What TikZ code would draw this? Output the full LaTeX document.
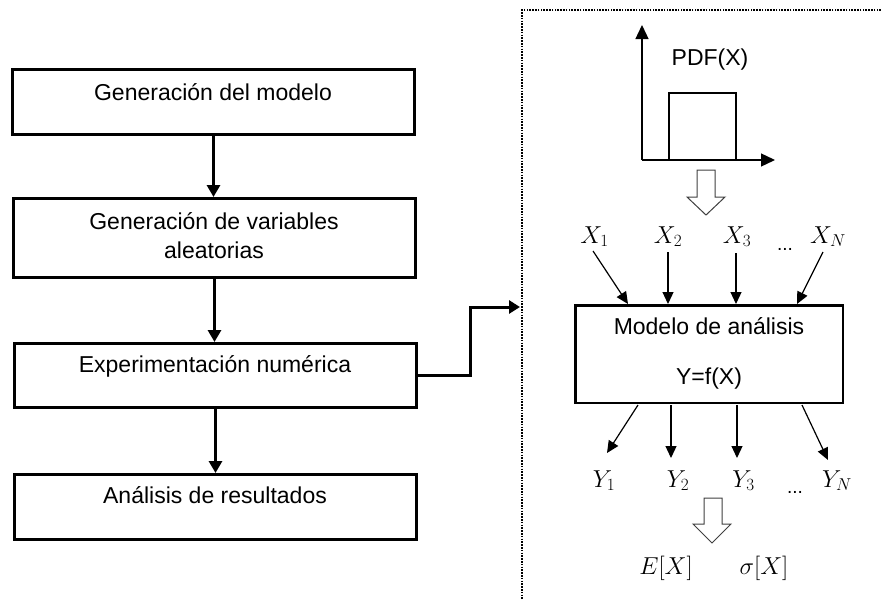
\RequirePackage{fix-cm}
\documentclass[tikz,border=0pt]{standalone}
\usepackage{fontspec}
\setmainfont{Liberation Sans}
\usetikzlibrary{arrows.meta,calc}
\begin{document}
\begin{tikzpicture}[x=1pt,y=-1pt,
  flowbox/.style={draw, line width=3pt, minimum width=402pt, inner sep=0pt},
  txt/.style={anchor=base, font=\fontsize{23}{27}\selectfont, inner sep=0pt},
  mth/.style={anchor=base, font=\fontsize{24.5}{28}\selectfont, inner sep=0pt},
  dts/.style={anchor=base, font=\fontsize{19}{22}\selectfont, inner sep=0pt},
  bigarrow/.style={line width=3pt, -{Triangle[width=13pt,length=12pt]}},
  smallarrow/.style={line width=1.2pt, -{Triangle[width=11pt,length=12pt]}},
  axisarrow/.style={line width=1.3pt, -{Triangle[width=13pt,length=14pt]}},
  hollow/.style={draw=black!75, line width=1pt, fill=white},
  dotline/.style={line width=2.4pt, dash pattern=on 1.6pt off 1.2pt}
]
\useasboundingbox (0,0) rectangle (881,600);

% left flow boxes
\node[flowbox, minimum height=65pt] (b1) at (213.5,102) {};
\node[flowbox, minimum height=79pt] (b2) at (214.5,238) {};
\node[flowbox, minimum height=64pt] (b3) at (215.5,375.5) {};
\node[flowbox, minimum height=65pt] (b4) at (215.5,507) {};

\node[txt] (t1) at (213,100) {Generación del modelo};
\node[txt] (t2a) at (214,229) {Generación de variables};
\node[txt] (t2b) at (214,258) {aleatorias};
\node[txt] (t3) at (215,372) {Experimentación numérica};
\node[txt] (t4) at (215,503) {Análisis de resultados};

\draw[bigarrow] (b1.south) -- (b1.south |- b2.north);
\draw[bigarrow] (b2.south) -- (b2.south |- b3.north);
\draw[bigarrow] (b3.south) -- (b3.south |- b4.north);

% dotted frame
\coordinate (fc) at (522,10);
\coordinate (ftr) at (881,10);
\coordinate (fbl) at (522,600);
\draw[dotline] (ftr) -- (fc) -- (fbl);

% connector to right panel
\coordinate (dtarget) at (520,307);
\draw[line width=3pt, -{Triangle[width=13pt,length=11pt]}] (b3.east) -- (470,375.5) |- (dtarget);

% PDF plot
\coordinate (origin) at (642,160);
\coordinate (ytop) at (642,25);
\coordinate (xend) at (775,160);
\draw[axisarrow] (origin) -- (ytop);
\draw[axisarrow] (origin) -- (xend);
\draw[line width=1.2pt] (669,160) -- (669,93) -- (736,93) -- (736,160);
\node[txt] (pdf) at (710,65) {PDF(X)};

% hollow arrow 1
\draw[hollow] (697,170) -- (715,170) -- (715,197) -- (725,197) -- (706,215) -- (687,197) -- (697,197) -- cycle;

% inputs
\node[mth] (x1) at (594.5,243) {$X_1$};
\node[mth] (x2) at (668,243) {$X_2$};
\node[mth] (x3) at (737,243) {$X_3$};
\node[dts] (xd) at (785,250) {...};
\node[mth] (xn) at (828,243) {$X_N$};

% model box
\node[draw, line width=2.5pt, minimum width=267.5pt, minimum height=97.5pt, inner sep=0pt] (m) at (709,354) {};
\node[txt] (mt1) at (709,334) {Modelo de análisis};
\node[txt] (mt2) at (709,384) {Y=f(X)};

\coordinate (xa1) at (593,251);
\coordinate (xa2) at (668,252);
\coordinate (xa3) at (736,253);
\coordinate (xan) at (823,252);
\coordinate (xe1) at (628,304);
\coordinate (xe2) at (668,304);
\coordinate (xe3) at (736,304);
\coordinate (xen) at (797,304);
\draw[smallarrow] (xa1) -- (xe1);
\draw[smallarrow] (xa2) -- (xe2);
\draw[smallarrow] (xa3) -- (xe3);
\draw[smallarrow] (xan) -- (xen);

% outputs
\coordinate (ys1) at (638,405);
\coordinate (ys2) at (671,405);
\coordinate (ys3) at (737,405);
\coordinate (ysn) at (802,405);
\coordinate (ye1) at (607,453);
\coordinate (ye2) at (671,458);
\coordinate (ye3) at (737,458);
\coordinate (yen) at (828,460);
\draw[smallarrow] (ys1) -- (ye1);
\draw[smallarrow] (ys2) -- (ye2);
\draw[smallarrow] (ys3) -- (ye3);
\draw[smallarrow] (ysn) -- (yen);

\node[mth] (y1) at (604,487) {$Y_1$};
\node[mth] (y2) at (678,487) {$Y_2$};
\node[mth] (y3) at (743.5,487) {$Y_3$};
\node[dts] (yd) at (795,493) {...};
\node[mth] (yn) at (837,487) {$Y_N$};

% hollow arrow 2
\draw[hollow] (704,498) -- (722,498) -- (722,524) -- (731,524) -- (712,543) -- (693,524) -- (704,524) -- cycle;

\node[mth] (ex) at (666,574) {$E[X]$};
\node[mth] (sx) at (764,574) {$\sigma[X]$};
\end{tikzpicture}
\end{document}
